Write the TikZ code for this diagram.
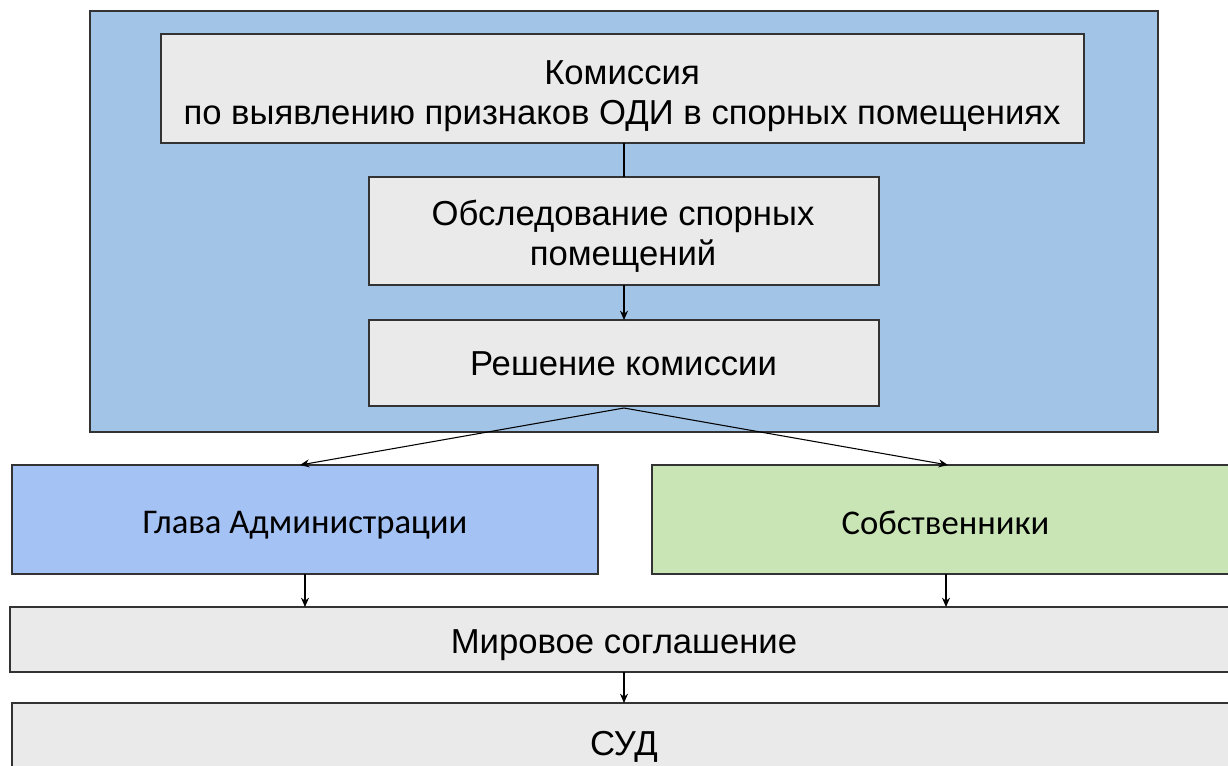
\documentclass[tikz,border=0pt]{standalone}
\usepackage{fontspec}
\setmainfont{Liberation Sans}
\newfontfamily\calfont{Carlito}
\usetikzlibrary{arrows.meta}
\definecolor{outerblue}{HTML}{A2C5E7}
\definecolor{boxgray}{HTML}{EAEAEA}
\definecolor{headblue}{HTML}{A4C2F4}
\definecolor{ownergreen}{HTML}{C9E5B5}
\tikzset{
  every node/.style={inner sep=0pt, outer sep=0pt},
  boxline/.style={draw=black!80, line width=0.9pt},
  graybox/.style={boxline, fill=boxgray},
  maintext/.style={align=center, font=\fontsize{26}{30}\selectfont},
  caltext/.style={font=\calfont\fontsize{26}{30}\selectfont},
  conn/.style={line width=0.8pt, black},
  arr/.style={conn, -{Stealth[length=7pt,width=6pt]}}
}
\begin{document}
\begin{tikzpicture}[x=0.75pt,y=-0.75pt]
\useasboundingbox (0,0) rectangle (1228,765);
\fill[white] (0,0) rectangle (1228,765);
\draw[boxline, fill=outerblue] (90,11) rectangle (1158,432);
% boxes
\node[graybox, minimum width=923*0.75pt, minimum height=109*0.75pt] (kom) at (622.5,88.5) {};
\node[graybox, minimum width=510*0.75pt, minimum height=108*0.75pt] (obs) at (624,231) {};
\node[graybox, minimum width=510*0.75pt, minimum height=86*0.75pt] (res) at (624,363) {};
\node[boxline, fill=headblue, minimum width=586*0.75pt, minimum height=109*0.75pt] (gl) at (305,519.5) {};
\node[boxline, fill=ownergreen, minimum width=600*0.75pt, minimum height=109*0.75pt] (sob) at (952,519.5) {};
\node[graybox, minimum width=1240*0.75pt, minimum height=65*0.75pt, anchor=west] (mir) at (10,639.5) {};
\node[graybox, minimum width=1240*0.75pt, minimum height=100*0.75pt, anchor=north west] (sud) at (12,703) {};
% texts
\node[maintext] (komt) at (622,96) {Комиссия\\по выявлению признаков ОДИ в спорных помещениях};
\node[maintext] (obst) at (623,236.3) {Обследование спорных\\помещений};
\node[maintext, anchor=base] (rest) at (623.5,375) {Решение комиссии};
\node[caltext, anchor=base] (glt) at (305,533) {Глава Администрации};
\node[caltext, anchor=base] (sobt) at (945.5,534) {Собственники};
\node[maintext, anchor=base] (mirt) at (624,653) {Мировое соглашение};
\node[maintext, anchor=base] (sudt) at (624,755) {СУД};
% connectors
\coordinate (resb) at (624,408);
\coordinate (glin) at (300,465);
\coordinate (sobin) at (948,465);
\draw[conn] (obs.north |- kom.south) -- (obs.north);
\draw[arr] (obs.south) -- (res.north);
\draw[arr] (resb) -- (glin);
\draw[arr] (resb) -- (sobin);
\draw[arr] (gl.south -| 305,0) -- (mir.north -| 305,0);
\draw[arr] (sob.south -| 946,0) -- (mir.north -| 946,0);
\draw[arr] (mir.south -| 624,0) -- (sud.north -| 624,0);
\end{tikzpicture}
\end{document}
